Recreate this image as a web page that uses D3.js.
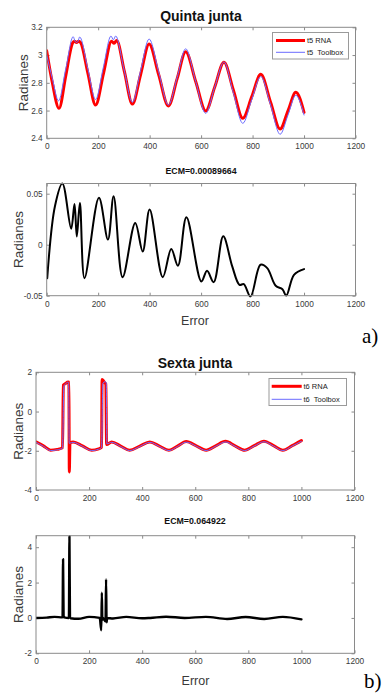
<!DOCTYPE html>
<html><head><meta charset="utf-8">
<script src="https://cdn.jsdelivr.net/npm/d3@7"></script>
<style>
body{margin:0;background:#fff}
svg{display:block}
</style>
</head><body>
<svg id="c" width="387" height="697"></svg>
<script>
// ---------- data ----------
const xTickValues = [0, 200, 400, 600, 800, 1000, 1200];
const t5TickValues = [2.4, 2.6, 2.8, 3, 3.2];
const e5TickValues = [-0.05, 0, 0.05];
const t6TickValues = [-4, -2, 0, 2];
const e6TickValues = [-2, 0, 2, 4];

const titles = ["Quinta junta", "ECM=0.00089664", "Sexta junta", "ECM=0.064922"];
const legend5 = ["t5 RNA", "t5  Toolbox"];
const legend6 = ["t6 RNA", "t6  Toolbox"];
const yLabel = "Radianes";
const xLabel = "Error";
const panelTags = ["a)", "b)"];

const t5RnaX = [0,22,48,74,100,108,116,124,132,160,190,221,252,262,272,302,333,365,398,435,473,507,540,579,618,653,689,725,762,797,832,870,907,938,968,1000];
const t5RnaY = [3.03,2.80,2.616,2.85,3.085,3.10,3.09,3.10,3.09,2.87,2.64,2.87,3.10,3.085,3.105,2.88,2.647,2.86,3.08,2.86,2.633,2.83,3.024,2.81,2.597,2.77,2.948,2.75,2.544,2.70,2.861,2.66,2.467,2.60,2.731,2.587];

const t5ToolX = [0,22,46,74,103,110,116,122,128,160,190,220,250,259,268,300,333,365,398,435,473,507,540,579,618,653,689,725,762,797,832,870,907,938,968,1000];
const t5ToolY = [3.00,2.83,2.67,2.90,3.132,3.10,3.09,3.10,3.13,2.90,2.68,2.91,3.137,3.11,3.137,2.90,2.66,2.89,3.115,2.88,2.64,2.84,3.045,2.81,2.58,2.77,2.95,2.73,2.508,2.68,2.845,2.64,2.429,2.57,2.71,2.568];

const e5X = [2,32,61,95,108,117,129,147,203,238,260,295,344,373,400,451,484,510,543,601,623,649,686,721,749,766,792,831,857,890,916,931,961,1000];
const e5Y = [-0.0328,0.0377,0.060,0.0157,0.040,0.008,0.041,-0.0328,0.046,0.005,0.0475,-0.0318,0.0213,-0.0066,0.0344,-0.0318,-0.0043,-0.0206,0.0269,-0.036,-0.0256,-0.0367,0.0082,-0.0213,-0.0393,-0.0387,-0.0508,-0.0197,-0.023,-0.0403,-0.0436,-0.0499,-0.0295,-0.0239];

const t6RnaX = [0,28,55,80,100,103,110,121,124,125.5,128,140,175,210,236,247,249,255,260,263,266,285,319,353,391,429,465,501,533,566,604,641,677,714,750,786,822,859,895,930,965,1000];
const t6RnaY = [-1.55,-1.75,-1.97,-1.93,-1.85,1.35,1.42,1.51,1.5,-3.08,-1.6,-1.55,-1.75,-1.97,-1.9,-1.82,1.63,1.55,1.45,1.4,-1.68,-1.55,-1.76,-1.97,-1.76,-1.55,-1.76,-1.97,-1.76,-1.53,-1.75,-1.97,-1.75,-1.52,-1.75,-1.97,-1.74,-1.51,-1.74,-1.97,-1.74,-1.48];

const t6ToolX = [0,28,55,80,100,105,112,121,123,125,140,175,210,236,247,252,260,265,267,285,319,353,391,429,465,501,533,566,604,641,677,714,750,786,822,859,895,930,965,1000];
const t6ToolY = [-1.57,-1.77,-1.99,-1.95,-1.87,1.3,1.42,1.5,1.48,-1.62,-1.57,-1.77,-1.99,-1.92,-1.84,1.45,1.52,1.48,-1.65,-1.57,-1.78,-1.99,-1.78,-1.57,-1.78,-1.99,-1.78,-1.56,-1.77,-1.99,-1.77,-1.55,-1.77,-1.99,-1.76,-1.54,-1.76,-1.99,-1.76,-1.52];

const e6X = [0,40,70,100,102,104,106,124,126,128,130,160,200,240,246,248,250,252,262,264,266,268,290,340,400,430,490,560,640,720,790,860,930,1000];
const e6Y = [0,0.02,0.06,0.03,3.32,0.05,0.03,0.0,4.62,0.05,-0.02,-0.05,0.06,0.0,-0.7,1.42,-0.1,0.0,-0.2,2.18,-0.25,0.0,-0.03,0.06,-0.02,0.0,0.07,0.0,0.06,-0.06,0.05,-0.06,0.06,-0.08];

// ---------- drawing ----------
const SANS = '"Liberation Sans",Arial,Helvetica,sans-serif';
const SERIF = '"Liberation Serif","Times New Roman",serif';
const svg = d3.select("#c").style("font-family", SANS);
const zip = (xs, ys) => xs.map((x, i) => [x, ys[i]]);
const boxColor = "#8a8a8a";
const textColor = "#3a3a3a";
const red = "#ff0000", blue = "#6b6bff";

function panel(o) {
  const x = d3.scaleLinear().domain([0, 1200]).range([o.left, o.right]);
  const y = d3.scaleLinear().domain(o.yDomain).range([o.bottom, o.top]);
  const g = svg.append("g");
  const id = "clip" + Math.random().toString(36).slice(2);
  g.append("clipPath").attr("id", id).append("rect")
    .attr("x", o.left).attr("y", o.top - 2).attr("width", o.right - o.left).attr("height", o.bottom - o.top + 4);

  const tl = 3;
  const axB = d3.axisBottom(x).tickValues(xTickValues).tickSizeInner(-tl).tickSizeOuter(0).tickPadding(5).tickFormat(d => String(d));
  const axT = d3.axisTop(x).tickValues(xTickValues).tickSizeInner(-tl).tickSizeOuter(0).tickFormat("");
  const axL = d3.axisLeft(y).tickValues(o.yTicks).tickSizeInner(-tl).tickSizeOuter(0).tickPadding(4).tickFormat(d => String(d));
  const axR = d3.axisRight(y).tickValues(o.yTicks).tickSizeInner(-tl).tickSizeOuter(0).tickFormat("");
  const styleAx = sel => {
    sel.select(".domain").remove();
    sel.selectAll("line").attr("stroke", boxColor);
    sel.selectAll("text").attr("fill", textColor).attr("font-size", 8.3).style("font-family", SANS);
  };
  g.append("g").attr("transform", `translate(0,${o.bottom})`).call(axB).call(styleAx)
    .selectAll("text").attr("dy", "0.71em");
  g.append("g").attr("transform", `translate(0,${o.top})`).call(axT).call(styleAx);
  g.append("g").attr("transform", `translate(${o.left},0)`).call(axL).call(styleAx);
  g.append("g").attr("transform", `translate(${o.right},0)`).call(axR).call(styleAx);

  const lg = g.append("g").attr("clip-path", `url(#${id})`);
  o.series.forEach(s => {
    const line = d3.line().x(d => x(d[0])).y(d => y(d[1])).curve(s.curve || d3.curveMonotoneX);
    lg.append("path").attr("d", line(s.data)).attr("fill", "none")
      .attr("stroke", s.color).attr("stroke-width", s.width)
      .attr("stroke-linejoin", "round").attr("stroke-linecap", "round");
  });

  g.append("rect").attr("x", o.left).attr("y", o.top)
    .attr("width", o.right - o.left).attr("height", o.bottom - o.top)
    .attr("fill", "none").attr("stroke", boxColor).attr("stroke-width", 1);

  g.append("text").attr("x", o.titleX).attr("y", o.titleY).attr("text-anchor", "middle")
    .attr("font-weight", "bold").attr("font-size", o.titleSize).attr("fill", "#111").text(o.title);

  g.append("text").attr("transform", `translate(${o.ylabX},${(o.top + o.bottom) / 2}) rotate(-90)`)
    .attr("text-anchor", "middle").attr("dy", "0.35em").attr("font-size", 13.5).attr("fill", textColor).text(yLabel);

  if (o.xlab) {
    g.append("text").attr("x", o.xlabX).attr("y", o.xlabY).attr("text-anchor", "middle")
      .attr("font-size", 12.5).attr("fill", textColor).text(xLabel);
  }

  if (o.legend) {
    const L = o.legend;
    g.append("rect").attr("x", L.x0).attr("y", L.y0).attr("width", L.x1 - L.x0).attr("height", L.y1 - L.y0)
      .attr("fill", "#fff").attr("stroke", "#9a9a9a").attr("stroke-width", 1);
    L.items.forEach((it, i) => {
      g.append("line").attr("x1", L.lx0).attr("x2", L.lx1).attr("y1", L.ys[i]).attr("y2", L.ys[i])
        .attr("stroke", it.color).attr("stroke-width", it.width);
      g.append("text").attr("x", L.tx).attr("y", L.ys[i]).attr("dy", "0.35em")
        .attr("font-size", 7.5).attr("fill", "#222").style("white-space", "pre").text(it.label);
    });
  }
}

panel({
  left: 46.7, right: 355.5, top: 27.3, bottom: 138.3,
  yDomain: [2.4, 3.2], yTicks: t5TickValues,
  series: [
    { data: zip(t5RnaX, t5RnaY), color: red, width: 3 },
    { data: zip(t5ToolX, t5ToolY), color: blue, width: 1 }
  ],
  title: titles[0], titleSize: 14, titleX: 201, titleY: 21,
  ylabX: 23,
  legend: { x0: 272.5, x1: 348.5, y0: 32.5, y1: 59, lx0: 276, lx1: 305, tx: 307, ys: [40.5, 52.3],
    items: [{ label: legend5[0], color: red, width: 3 }, { label: legend5[1], color: blue, width: 1 }] }
});

panel({
  left: 46.7, right: 355.5, top: 183.5, bottom: 295.7,
  yDomain: [-0.05, 0.06], yTicks: e5TickValues,
  series: [{ data: zip(e5X, e5Y), color: "#000", width: 2, curve: d3.curveCatmullRom.alpha(0.5) }],
  title: titles[1], titleSize: 8.8, titleX: 201, titleY: 173.5,
  ylabX: 18, xlab: true, xlabX: 195, xlabY: 324.5
});

panel({
  left: 36, right: 354.5, top: 372.3, bottom: 490,
  yDomain: [-4, 2], yTicks: t6TickValues,
  series: [
    { data: zip(t6RnaX, t6RnaY), color: red, width: 3 },
    { data: zip(t6ToolX, t6ToolY), color: blue, width: 1 }
  ],
  title: titles[2], titleSize: 14, titleX: 195, titleY: 367.5,
  ylabX: 18,
  legend: { x0: 269, x1: 346.5, y0: 378.5, y1: 405.5, lx0: 271.7, lx1: 301.7, tx: 303.5, ys: [386.3, 399.3],
    items: [{ label: legend6[0], color: red, width: 3 }, { label: legend6[1], color: blue, width: 1 }] }
});

panel({
  left: 36, right: 354.5, top: 535.7, bottom: 653.3,
  yDomain: [-2, 4.65], yTicks: e6TickValues,
  series: [{ data: zip(e6X, e6Y), color: "#000", width: 2.4 }],
  title: titles[3], titleSize: 8.8, titleX: 195, titleY: 523.5,
  ylabX: 18, xlab: true, xlabX: 195.5, xlabY: 685
});

svg.append("text").attr("x", 362).attr("y", 343).style("font-family", SERIF)
  .attr("font-size", 21).attr("fill", "#000").text(panelTags[0]);
svg.append("text").attr("x", 364).attr("y", 688).style("font-family", SERIF)
  .attr("font-size", 21).attr("fill", "#000").text(panelTags[1]);
</script>
</body></html>
